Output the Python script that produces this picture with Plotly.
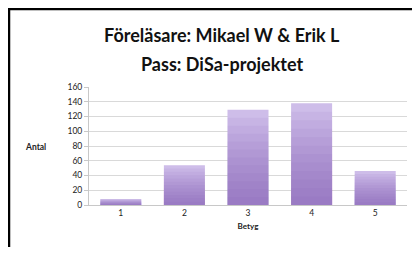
import plotly.graph_objects as go

categories = ["1", "2", "3", "4", "5"]
values = [8, 54, 129, 138, 46]
y_ticks = [0, 20, 40, 60, 80, 100, 120, 140, 160]
title_line1 = "Föreläsare: Mikael W & Erik L"
title_line2 = "Pass: DiSa-projektet"
y_title = "Antal"
x_title = "Betyg"

# the page body adds an 8px margin on each side; keep the figure inside the window
OFF = 8
W, H = 420 - 2 * OFF, 255 - 2 * OFF
L, T = 89 - OFF, 87 - OFF
R = W - (407 - OFF)
B = H - (205 - OFF)
pw, ph = W - L - R, H - T - B

def px_x(p):  # p: page pixel
    return (p - OFF - L) / pw

def px_y(p):
    return (H - B - (p - OFF)) / ph

fig = go.Figure()
fig.add_trace(go.Bar(x=categories, y=values, marker=dict(color="#cebde9", line=dict(width=0)),
                     width=0.645, hoverinfo="skip", showlegend=False))
N = 12
for i in range(1, N):
    frac = 1 - i / N
    fig.add_trace(go.Bar(x=categories, y=[v * frac for v in values],
                         marker=dict(color="rgba(120,85,170,0.075)", line=dict(width=0)),
                         width=0.645, hoverinfo="skip", showlegend=False))

font_fam = "Lato, 'Open Sans', sans-serif"
frame = dict(color="black", width=2.5)
fig.update_layout(
    width=W, height=H,
    margin=dict(l=L, r=R, t=T, b=B),
    paper_bgcolor="white", plot_bgcolor="white",
    barmode="overlay", bargap=0.355,
    showlegend=False,
    font=dict(family=font_fam, color="#222222", size=8),
    xaxis=dict(showgrid=False, showline=True, linecolor="#c8c8c8", linewidth=1,
               ticks="", tickfont=dict(size=8.5, color="#222"),
               title=dict(text=f"<b>{x_title}</b>", font=dict(size=8, color="#222"), standoff=6)),
    yaxis=dict(range=[0, 160], tickvals=y_ticks, showgrid=True, gridcolor="#d9d9d9", gridwidth=1,
               showline=True, linecolor="#c8c8c8", linewidth=1, zeroline=False,
               ticks="outside", ticklen=4, tickcolor="#c8c8c8",
               tickfont=dict(size=8.5, color="#222")),
    annotations=[
        dict(text=f"<b>{title_line1}</b>", x=px_x(222), y=px_y(35), xref="paper", yref="paper",
             showarrow=False, font=dict(size=18, family=font_fam, color="#111"),
             xanchor="center", yanchor="middle"),
        dict(text=f"<b>{title_line2}</b>", x=px_x(222), y=px_y(64), xref="paper", yref="paper",
             showarrow=False, font=dict(size=18, family=font_fam, color="#111"),
             xanchor="center", yanchor="middle"),
        dict(text=f"<b>{y_title}</b>", x=px_x(48), y=px_y(147), xref="paper", yref="paper",
             showarrow=False, font=dict(size=8.5, family=font_fam, color="#222"),
             xanchor="right", yanchor="middle"),
    ],
    shapes=[
        dict(type="line", xref="paper", yref="paper",
             x0=px_x(OFF + 1), x1=px_x(OFF + 1), y0=px_y(300), y1=px_y(OFF),
             line=frame, layer="above"),
        dict(type="line", xref="paper", yref="paper",
             x0=px_x(OFF), x1=px_x(460), y0=px_y(OFF + 1), y1=px_y(OFF + 1),
             line=frame, layer="above"),
    ],
)

fig.write_html("out.html")
